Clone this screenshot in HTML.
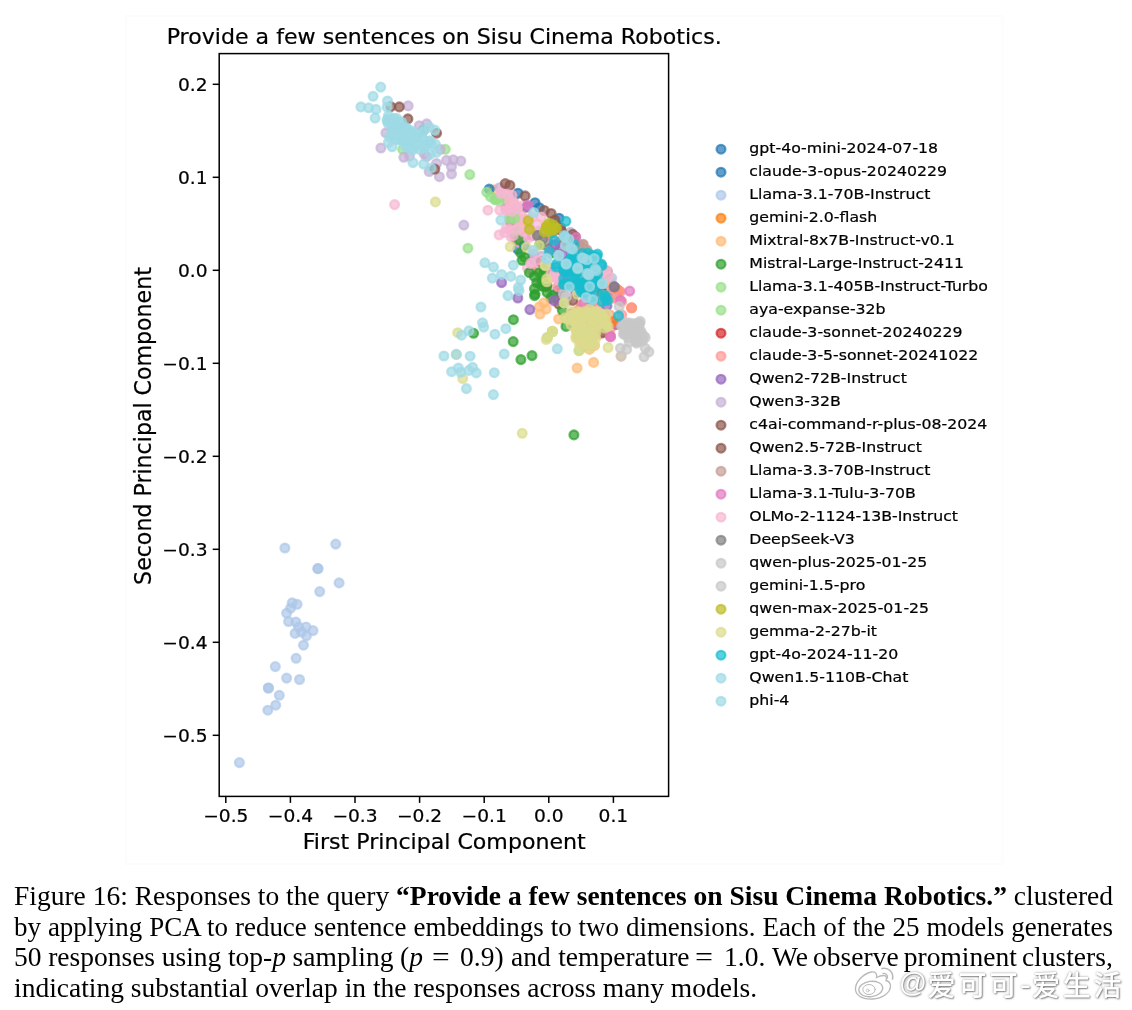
<!DOCTYPE html>
<html lang="en"><head><meta charset="utf-8"><title>Figure 16</title>
<style>
html,body{margin:0;padding:0;background:#fff}
body{width:1132px;height:1010px;position:relative;overflow:hidden;font-family:"Liberation Serif","Noto Serif CJK SC",serif}
</style></head><body>
<svg width="1132" height="872" viewBox="0 0 1132 872" style="position:absolute;left:0;top:0;font-family:'DejaVu Sans','Liberation Sans',sans-serif">
<style>
.c0{fill:#1f77b4;stroke:#1f77b4}
.c1{fill:#aec7e8;stroke:#aec7e8}
.c2{fill:#ff7f0e;stroke:#ff7f0e}
.c3{fill:#ffbb78;stroke:#ffbb78}
.c4{fill:#2ca02c;stroke:#2ca02c}
.c5{fill:#98df8a;stroke:#98df8a}
.c6{fill:#d62728;stroke:#d62728}
.c7{fill:#ff9896;stroke:#ff9896}
.c8{fill:#9467bd;stroke:#9467bd}
.c9{fill:#c5b0d5;stroke:#c5b0d5}
.c10{fill:#8c564b;stroke:#8c564b}
.c11{fill:#c49c94;stroke:#c49c94}
.c12{fill:#e377c2;stroke:#e377c2}
.c13{fill:#f7b6d2;stroke:#f7b6d2}
.c14{fill:#7f7f7f;stroke:#7f7f7f}
.c15{fill:#c7c7c7;stroke:#c7c7c7}
.c16{fill:#bcbd22;stroke:#bcbd22}
.c17{fill:#dbdb8d;stroke:#dbdb8d}
.c18{fill:#17becf;stroke:#17becf}
.c19{fill:#9edae5;stroke:#9edae5}
.pts circle{fill-opacity:.7;stroke-opacity:.7;stroke-width:2.3}
text{stroke:#000;stroke-width:.22px}.tk{font-size:17.6px;fill:#000}.lg{font-size:14.9px;fill:#000}.ti{font-size:20.9px;fill:#000}
</style>
<rect x="126" y="16" width="876.5" height="848" fill="none" stroke="#fcfcfc" stroke-width="2"/>
<g class="pts">
<circle class="c13" cx="504.9" cy="193.3" r="4.4"/>
<circle class="c3" cx="521.5" cy="228.3" r="4.4"/>
<circle class="c3" cx="516" cy="220.6" r="4.4"/>
<circle class="c13" cx="507.3" cy="200.3" r="4.4"/>
<circle class="c3" cx="521" cy="220.1" r="4.4"/>
<circle class="c13" cx="511" cy="236.8" r="4.4"/>
<circle class="c3" cx="520" cy="239.1" r="4.4"/>
<circle class="c12" cx="506" cy="207.6" r="4.4"/>
<circle class="c13" cx="521.4" cy="215.2" r="4.4"/>
<circle class="c12" cx="529.2" cy="228.9" r="4.4"/>
<circle class="c13" cx="513" cy="221.9" r="4.4"/>
<circle class="c5" cx="495.4" cy="199.1" r="4.4"/>
<circle class="c13" cx="523.3" cy="205.3" r="4.4"/>
<circle class="c13" cx="528.5" cy="219.4" r="4.4"/>
<circle class="c12" cx="526.2" cy="235.5" r="4.4"/>
<circle class="c13" cx="509.3" cy="211.1" r="4.4"/>
<circle class="c5" cx="515.1" cy="211.2" r="4.4"/>
<circle class="c3" cx="493.8" cy="189.8" r="4.4"/>
<circle class="c12" cx="532.3" cy="235.6" r="4.4"/>
<circle class="c5" cx="505.3" cy="198.5" r="4.4"/>
<circle class="c13" cx="517.4" cy="208" r="4.4"/>
<circle class="c13" cx="514.5" cy="196.4" r="4.4"/>
<circle class="c5" cx="498.3" cy="198.7" r="4.4"/>
<circle class="c13" cx="506.2" cy="228.6" r="4.4"/>
<circle class="c13" cx="532.3" cy="216.8" r="4.4"/>
<circle class="c13" cx="512" cy="228.1" r="4.4"/>
<circle class="c11" cx="526.4" cy="207.6" r="4.4"/>
<circle class="c13" cx="535.5" cy="234.6" r="4.4"/>
<circle class="c0" cx="518" cy="249.4" r="4.4"/>
<circle class="c13" cx="519.1" cy="242.3" r="4.4"/>
<circle class="c11" cx="514.5" cy="234.5" r="4.4"/>
<circle class="c13" cx="518.2" cy="217.1" r="4.4"/>
<circle class="c11" cx="516.8" cy="240.4" r="4.4"/>
<circle class="c9" cx="499.6" cy="187.7" r="4.4"/>
<circle class="c5" cx="509.7" cy="217.4" r="4.4"/>
<circle class="c13" cx="524.2" cy="219.2" r="4.4"/>
<circle class="c9" cx="538.7" cy="231" r="4.4"/>
<circle class="c11" cx="510.2" cy="221" r="4.4"/>
<circle class="c13" cx="520.8" cy="232.7" r="4.4"/>
<circle class="c13" cx="501.1" cy="191.2" r="4.4"/>
<circle class="c5" cx="516.7" cy="231.8" r="4.4"/>
<circle class="c13" cx="510.1" cy="207.4" r="4.4"/>
<circle class="c0" cx="524.3" cy="245.6" r="4.4"/>
<circle class="c3" cx="512.8" cy="201.4" r="4.4"/>
<circle class="c5" cx="514.6" cy="218.5" r="4.4"/>
<circle class="c4" cx="542.1" cy="285.9" r="4.4"/>
<circle class="c3" cx="540.9" cy="266.6" r="4.4"/>
<circle class="c13" cx="567.9" cy="284.7" r="4.4"/>
<circle class="c4" cx="577.4" cy="272.4" r="4.4"/>
<circle class="c3" cx="584.9" cy="279.7" r="4.4"/>
<circle class="c10" cx="570.2" cy="281.6" r="4.4"/>
<circle class="c10" cx="561.2" cy="299.5" r="4.4"/>
<circle class="c10" cx="561.1" cy="291.9" r="4.4"/>
<circle class="c4" cx="551.6" cy="253" r="4.4"/>
<circle class="c9" cx="570.3" cy="270.7" r="4.4"/>
<circle class="c13" cx="530.5" cy="260.5" r="4.4"/>
<circle class="c8" cx="560.3" cy="246" r="4.4"/>
<circle class="c13" cx="538.4" cy="268" r="4.4"/>
<circle class="c12" cx="542.5" cy="282.6" r="4.4"/>
<circle class="c9" cx="559.5" cy="256.5" r="4.4"/>
<circle class="c12" cx="560" cy="279.1" r="4.4"/>
<circle class="c8" cx="557.7" cy="290.4" r="4.4"/>
<circle class="c9" cx="550.4" cy="268.4" r="4.4"/>
<circle class="c4" cx="590.3" cy="256.5" r="4.4"/>
<circle class="c13" cx="574.2" cy="248.3" r="4.4"/>
<circle class="c4" cx="547.1" cy="292.4" r="4.4"/>
<circle class="c14" cx="547.8" cy="241.5" r="4.4"/>
<circle class="c14" cx="545.2" cy="245" r="4.4"/>
<circle class="c4" cx="552.6" cy="295.4" r="4.4"/>
<circle class="c12" cx="550.4" cy="250.6" r="4.4"/>
<circle class="c10" cx="547.1" cy="285.6" r="4.4"/>
<circle class="c3" cx="583.9" cy="271.2" r="4.4"/>
<circle class="c4" cx="564.4" cy="280.2" r="4.4"/>
<circle class="c4" cx="591.3" cy="263" r="4.4"/>
<circle class="c12" cx="558.7" cy="242.1" r="4.4"/>
<circle class="c9" cx="541.4" cy="256.2" r="4.4"/>
<circle class="c4" cx="552.9" cy="224.2" r="4.4"/>
<circle class="c8" cx="583.9" cy="263" r="4.4"/>
<circle class="c13" cx="565.9" cy="297.2" r="4.4"/>
<circle class="c13" cx="560.6" cy="265.4" r="4.4"/>
<circle class="c9" cx="533" cy="258.3" r="4.4"/>
<circle class="c14" cx="552.2" cy="272.7" r="4.4"/>
<circle class="c13" cx="552.7" cy="301.2" r="4.4"/>
<circle class="c8" cx="562.8" cy="254.7" r="4.4"/>
<circle class="c9" cx="535.1" cy="260.2" r="4.4"/>
<circle class="c8" cx="575.7" cy="293.1" r="4.4"/>
<circle class="c14" cx="570.2" cy="260.8" r="4.4"/>
<circle class="c11" cx="566.9" cy="246.6" r="4.4"/>
<circle class="c13" cx="544.3" cy="239.3" r="4.4"/>
<circle class="c14" cx="560.6" cy="275.6" r="4.4"/>
<circle class="c8" cx="555.2" cy="244.8" r="4.4"/>
<circle class="c11" cx="554.9" cy="276.4" r="4.4"/>
<circle class="c10" cx="560.5" cy="227.5" r="4.4"/>
<circle class="c12" cx="540.1" cy="284.3" r="4.4"/>
<circle class="c7" cx="531.8" cy="270.4" r="4.4"/>
<circle class="c7" cx="552.9" cy="228.8" r="4.4"/>
<circle class="c13" cx="573" cy="245.6" r="4.4"/>
<circle class="c10" cx="580" cy="245.8" r="4.4"/>
<circle class="c4" cx="550.7" cy="298.2" r="4.4"/>
<circle class="c9" cx="570.5" cy="232.4" r="4.4"/>
<circle class="c7" cx="548.8" cy="234.8" r="4.4"/>
<circle class="c7" cx="545.7" cy="280.4" r="4.4"/>
<circle class="c4" cx="591.7" cy="271.5" r="4.4"/>
<circle class="c10" cx="558.9" cy="304.2" r="4.4"/>
<circle class="c14" cx="552.4" cy="232.7" r="4.4"/>
<circle class="c7" cx="557.9" cy="286.7" r="4.4"/>
<circle class="c14" cx="564.7" cy="240.2" r="4.4"/>
<circle class="c11" cx="576.3" cy="252.5" r="4.4"/>
<circle class="c9" cx="533.5" cy="253.9" r="4.4"/>
<circle class="c10" cx="541.1" cy="261.8" r="4.4"/>
<circle class="c10" cx="561.3" cy="230.7" r="4.4"/>
<circle class="c13" cx="527.4" cy="268.1" r="4.4"/>
<circle class="c13" cx="566.9" cy="301.5" r="4.4"/>
<circle class="c13" cx="571" cy="279.2" r="4.4"/>
<circle class="c4" cx="539.8" cy="244.6" r="4.4"/>
<circle class="c12" cx="590.4" cy="312.6" r="4.4"/>
<circle class="c7" cx="578.1" cy="329" r="4.4"/>
<circle class="c7" cx="598.5" cy="292.6" r="4.4"/>
<circle class="c7" cx="602.2" cy="315.6" r="4.4"/>
<circle class="c8" cx="614" cy="292.7" r="4.4"/>
<circle class="c7" cx="621.8" cy="314.8" r="4.4"/>
<circle class="c7" cx="594.2" cy="331.3" r="4.4"/>
<circle class="c11" cx="605.4" cy="288.5" r="4.4"/>
<circle class="c3" cx="592.2" cy="308" r="4.4"/>
<circle class="c10" cx="591.2" cy="325" r="4.4"/>
<circle class="c7" cx="585.3" cy="332.9" r="4.4"/>
<circle class="c11" cx="591.5" cy="339.2" r="4.4"/>
<circle class="c7" cx="610" cy="334.7" r="4.4"/>
<circle class="c7" cx="597.8" cy="307.3" r="4.4"/>
<circle class="c7" cx="592.4" cy="302.9" r="4.4"/>
<circle class="c7" cx="577.3" cy="337.3" r="4.4"/>
<circle class="c7" cx="612" cy="284.7" r="4.4"/>
<circle class="c8" cx="607" cy="305.9" r="4.4"/>
<circle class="c11" cx="590.1" cy="301.5" r="4.4"/>
<circle class="c13" cx="599" cy="276.3" r="4.4"/>
<circle class="c7" cx="621.8" cy="301.6" r="4.4"/>
<circle class="c7" cx="610.9" cy="327.9" r="4.4"/>
<circle class="c7" cx="600.2" cy="284.2" r="4.4"/>
<circle class="c3" cx="609.7" cy="280.4" r="4.4"/>
<circle class="c7" cx="589.5" cy="336.3" r="4.4"/>
<circle class="c12" cx="601.3" cy="318.9" r="4.4"/>
<circle class="c7" cx="581.6" cy="304.6" r="4.4"/>
<circle class="c7" cx="617.1" cy="289.1" r="4.4"/>
<circle class="c3" cx="606" cy="316.6" r="4.4"/>
<circle class="c10" cx="616.7" cy="324.4" r="4.4"/>
<circle class="c7" cx="574.1" cy="312.1" r="4.4"/>
<circle class="c7" cx="593.7" cy="288.4" r="4.4"/>
<circle class="c11" cx="579.6" cy="309.1" r="4.4"/>
<circle class="c13" cx="578.1" cy="312.8" r="4.4"/>
<circle class="c13" cx="621.7" cy="320.7" r="4.4"/>
<circle class="c8" cx="570.2" cy="314.2" r="4.4"/>
<circle class="c7" cx="610.4" cy="295.9" r="4.4"/>
<circle class="c10" cx="602" cy="292.4" r="4.4"/>
<circle class="c7" cx="610.1" cy="315.1" r="4.4"/>
<circle class="c13" cx="617.6" cy="297.9" r="4.4"/>
<circle class="c12" cx="582.3" cy="314.7" r="4.4"/>
<circle class="c8" cx="587.7" cy="324.7" r="4.4"/>
<circle class="c7" cx="603.7" cy="295.2" r="4.4"/>
<circle class="c7" cx="602.4" cy="298.6" r="4.4"/>
<circle class="c8" cx="595.1" cy="322.3" r="4.4"/>
<circle class="c7" cx="573.3" cy="314.7" r="4.4"/>
<circle class="c12" cx="614.1" cy="323.5" r="4.4"/>
<circle class="c11" cx="609.4" cy="299" r="4.4"/>
<circle class="c7" cx="600" cy="334.2" r="4.4"/>
<circle class="c12" cx="604.6" cy="321.3" r="4.4"/>
<circle class="c0" cx="489.2" cy="189.1" r="4.4"/>
<circle class="c0" cx="518" cy="193.2" r="4.4"/>
<circle class="c0" cx="535" cy="202.7" r="4.4"/>
<circle class="c0" cx="539.3" cy="207.7" r="4.4"/>
<circle class="c0" cx="559.1" cy="218.2" r="4.4"/>
<circle class="c1" cx="611.8" cy="278.1" r="4.4"/>
<circle class="c1" cx="284.9" cy="548" r="4.4"/>
<circle class="c1" cx="335.7" cy="544.1" r="4.4"/>
<circle class="c1" cx="317.9" cy="568.6" r="4.4"/>
<circle class="c1" cx="317.9" cy="568.6" r="4.4"/>
<circle class="c1" cx="339.1" cy="582.9" r="4.4"/>
<circle class="c1" cx="319.7" cy="591.6" r="4.4"/>
<circle class="c1" cx="292.2" cy="602.9" r="4.4"/>
<circle class="c1" cx="297.1" cy="604.3" r="4.4"/>
<circle class="c1" cx="290.6" cy="608.2" r="4.4"/>
<circle class="c1" cx="286.6" cy="613.2" r="4.4"/>
<circle class="c1" cx="288.6" cy="621.5" r="4.4"/>
<circle class="c1" cx="295.9" cy="622.1" r="4.4"/>
<circle class="c1" cx="298.5" cy="627" r="4.4"/>
<circle class="c1" cx="306" cy="627" r="4.4"/>
<circle class="c1" cx="313" cy="630.6" r="4.4"/>
<circle class="c1" cx="295.1" cy="633.4" r="4.4"/>
<circle class="c1" cx="301.5" cy="632" r="4.4"/>
<circle class="c1" cx="306.4" cy="635.9" r="4.4"/>
<circle class="c1" cx="303.5" cy="645.2" r="4.4"/>
<circle class="c1" cx="296.1" cy="658.3" r="4.4"/>
<circle class="c1" cx="275.3" cy="666.6" r="4.4"/>
<circle class="c1" cx="286.6" cy="678.1" r="4.4"/>
<circle class="c1" cx="299.5" cy="679.5" r="4.4"/>
<circle class="c1" cx="268.4" cy="688" r="4.4"/>
<circle class="c1" cx="268.4" cy="688" r="4.4"/>
<circle class="c1" cx="279.3" cy="695.3" r="4.4"/>
<circle class="c1" cx="275.7" cy="705.2" r="4.4"/>
<circle class="c1" cx="267.8" cy="710.2" r="4.4"/>
<circle class="c1" cx="239.4" cy="762.6" r="4.4"/>
<circle class="c2" cx="613" cy="321.4" r="4.4"/>
<circle class="c2" cx="631.6" cy="307.8" r="4.4"/>
<circle class="c2" cx="619.2" cy="291.1" r="4.4"/>
<circle class="c3" cx="570.1" cy="319.2" r="4.4"/>
<circle class="c3" cx="581" cy="323.6" r="4.4"/>
<circle class="c3" cx="572.8" cy="323.4" r="4.4"/>
<circle class="c3" cx="580.6" cy="326" r="4.4"/>
<circle class="c3" cx="576.4" cy="320.1" r="4.4"/>
<circle class="c3" cx="590.1" cy="341.7" r="4.4"/>
<circle class="c3" cx="606.3" cy="320.3" r="4.4"/>
<circle class="c3" cx="578.8" cy="319" r="4.4"/>
<circle class="c3" cx="582.2" cy="329.6" r="4.4"/>
<circle class="c3" cx="592.9" cy="334.2" r="4.4"/>
<circle class="c3" cx="597.3" cy="331.5" r="4.4"/>
<circle class="c3" cx="585.2" cy="338.9" r="4.4"/>
<circle class="c3" cx="583.4" cy="309.4" r="4.4"/>
<circle class="c3" cx="580.7" cy="341.5" r="4.4"/>
<circle class="c3" cx="590.5" cy="316.4" r="4.4"/>
<circle class="c3" cx="591.3" cy="345.6" r="4.4"/>
<circle class="c3" cx="586.1" cy="323.3" r="4.4"/>
<circle class="c3" cx="576" cy="330.2" r="4.4"/>
<circle class="c3" cx="599.2" cy="313.3" r="4.4"/>
<circle class="c3" cx="580.6" cy="338.2" r="4.4"/>
<circle class="c3" cx="577.8" cy="337.4" r="4.4"/>
<circle class="c3" cx="592.9" cy="319" r="4.4"/>
<circle class="c3" cx="585.8" cy="312.3" r="4.4"/>
<circle class="c3" cx="580.4" cy="333.6" r="4.4"/>
<circle class="c3" cx="585" cy="317" r="4.4"/>
<circle class="c3" cx="577.7" cy="324" r="4.4"/>
<circle class="c3" cx="603" cy="317.5" r="4.4"/>
<circle class="c3" cx="576.6" cy="311.2" r="4.4"/>
<circle class="c3" cx="596.4" cy="325.6" r="4.4"/>
<circle class="c3" cx="589.4" cy="328.8" r="4.4"/>
<circle class="c3" cx="528.2" cy="220.7" r="4.4"/>
<circle class="c3" cx="529.4" cy="229.4" r="4.4"/>
<circle class="c3" cx="543.7" cy="302.9" r="4.4"/>
<circle class="c3" cx="558.6" cy="319" r="4.4"/>
<circle class="c3" cx="540" cy="314" r="4.4"/>
<circle class="c3" cx="546.2" cy="309.1" r="4.4"/>
<circle class="c3" cx="589.5" cy="349.4" r="4.4"/>
<circle class="c3" cx="594.5" cy="345.7" r="4.4"/>
<circle class="c3" cx="584.6" cy="346.9" r="4.4"/>
<circle class="c3" cx="577.1" cy="368" r="4.4"/>
<circle class="c3" cx="593.6" cy="362.4" r="4.4"/>
<circle class="c3" cx="621.1" cy="356.2" r="4.4"/>
<circle class="c3" cx="539.4" cy="306.7" r="4.4"/>
<circle class="c4" cx="519.5" cy="239.9" r="4.4"/>
<circle class="c4" cx="520.7" cy="252.9" r="4.4"/>
<circle class="c4" cx="524.5" cy="257.2" r="4.4"/>
<circle class="c4" cx="522" cy="260.3" r="4.4"/>
<circle class="c4" cx="529.4" cy="272.7" r="4.4"/>
<circle class="c4" cx="534.4" cy="276.4" r="4.4"/>
<circle class="c4" cx="539.3" cy="272.7" r="4.4"/>
<circle class="c4" cx="544.3" cy="270.2" r="4.4"/>
<circle class="c4" cx="536.8" cy="282.6" r="4.4"/>
<circle class="c4" cx="543" cy="286.3" r="4.4"/>
<circle class="c4" cx="534.4" cy="288.8" r="4.4"/>
<circle class="c4" cx="562.3" cy="310.3" r="4.4"/>
<circle class="c4" cx="566" cy="326.4" r="4.4"/>
<circle class="c4" cx="543.7" cy="274.4" r="4.4"/>
<circle class="c4" cx="546.2" cy="286.8" r="4.4"/>
<circle class="c4" cx="542.5" cy="281.8" r="4.4"/>
<circle class="c4" cx="473.6" cy="333.3" r="4.4"/>
<circle class="c4" cx="513.4" cy="319.7" r="4.4"/>
<circle class="c4" cx="513.2" cy="341.6" r="4.4"/>
<circle class="c4" cx="520.9" cy="359.6" r="4.4"/>
<circle class="c4" cx="532" cy="355.6" r="4.4"/>
<circle class="c4" cx="535.1" cy="294.3" r="4.4"/>
<circle class="c4" cx="534.5" cy="295.6" r="4.4"/>
<circle class="c4" cx="573.9" cy="434.9" r="4.4"/>
<circle class="c5" cx="445.3" cy="149.3" r="4.4"/>
<circle class="c5" cx="469.8" cy="174.6" r="4.4"/>
<circle class="c5" cx="402.6" cy="149.3" r="4.4"/>
<circle class="c5" cx="467.9" cy="248.2" r="4.4"/>
<circle class="c5" cx="486.7" cy="192.2" r="4.4"/>
<circle class="c5" cx="490.4" cy="196.6" r="4.4"/>
<circle class="c5" cx="494.8" cy="199.7" r="4.4"/>
<circle class="c5" cx="499.7" cy="201.5" r="4.4"/>
<circle class="c5" cx="509.6" cy="218.2" r="4.4"/>
<circle class="c5" cx="564.1" cy="302.9" r="4.4"/>
<circle class="c5" cx="552.4" cy="331.3" r="4.4"/>
<circle class="c5" cx="547.4" cy="337.5" r="4.4"/>
<circle class="c5" cx="579" cy="350.6" r="4.4"/>
<circle class="c5" cx="552.4" cy="331.5" r="4.4"/>
<circle class="c7" cx="620.4" cy="291.7" r="4.4"/>
<circle class="c7" cx="616.7" cy="299.2" r="4.4"/>
<circle class="c7" cx="631.6" cy="307.8" r="4.4"/>
<circle class="c8" cx="527.5" cy="206.5" r="4.4"/>
<circle class="c8" cx="501.6" cy="282.6" r="4.4"/>
<circle class="c8" cx="614.3" cy="286.8" r="4.4"/>
<circle class="c8" cx="554.2" cy="300.4" r="4.4"/>
<circle class="c8" cx="517.8" cy="298" r="4.4"/>
<circle class="c8" cx="529.9" cy="309.6" r="4.4"/>
<circle class="c9" cx="408.2" cy="105.9" r="4.4"/>
<circle class="c9" cx="385.9" cy="132.9" r="4.4"/>
<circle class="c9" cx="380.9" cy="148" r="4.4"/>
<circle class="c9" cx="403.8" cy="157.3" r="4.4"/>
<circle class="c9" cx="409.4" cy="156.1" r="4.4"/>
<circle class="c9" cx="419.3" cy="125.7" r="4.4"/>
<circle class="c9" cx="426.7" cy="123.9" r="4.4"/>
<circle class="c9" cx="424.3" cy="154.2" r="4.4"/>
<circle class="c9" cx="436.6" cy="163.5" r="4.4"/>
<circle class="c9" cx="429.2" cy="171.5" r="4.4"/>
<circle class="c9" cx="439.4" cy="176.7" r="4.4"/>
<circle class="c9" cx="446.5" cy="160.4" r="4.4"/>
<circle class="c9" cx="453.3" cy="159.8" r="4.4"/>
<circle class="c9" cx="460.8" cy="161" r="4.4"/>
<circle class="c9" cx="451.5" cy="166.6" r="4.4"/>
<circle class="c9" cx="451.5" cy="174" r="4.4"/>
<circle class="c9" cx="440.3" cy="149.3" r="4.4"/>
<circle class="c9" cx="426.7" cy="156.7" r="4.4"/>
<circle class="c9" cx="463.8" cy="225.1" r="4.4"/>
<circle class="c10" cx="399.3" cy="106.9" r="4.4"/>
<circle class="c10" cx="407.9" cy="118.9" r="4.4"/>
<circle class="c10" cx="436.6" cy="133.2" r="4.4"/>
<circle class="c10" cx="434.8" cy="169.1" r="4.4"/>
<circle class="c10" cx="390.8" cy="106.6" r="4.4"/>
<circle class="c10" cx="505.3" cy="183.6" r="4.4"/>
<circle class="c10" cx="509.9" cy="185.4" r="4.4"/>
<circle class="c10" cx="525.1" cy="195.9" r="4.4"/>
<circle class="c10" cx="544.3" cy="210.5" r="4.4"/>
<circle class="c10" cx="551.1" cy="213.5" r="4.4"/>
<circle class="c10" cx="554.8" cy="220.1" r="4.4"/>
<circle class="c10" cx="572.7" cy="234.3" r="4.4"/>
<circle class="c10" cx="575.3" cy="236.7" r="4.4"/>
<circle class="c10" cx="572.8" cy="300.4" r="4.4"/>
<circle class="c10" cx="603.1" cy="332.7" r="4.4"/>
<circle class="c11" cx="537.5" cy="235.5" r="4.4"/>
<circle class="c11" cx="583.2" cy="244.2" r="4.4"/>
<circle class="c11" cx="587" cy="249.8" r="4.4"/>
<circle class="c11" cx="582.7" cy="244.7" r="4.4"/>
<circle class="c11" cx="585.8" cy="250.9" r="4.4"/>
<circle class="c11" cx="607.5" cy="271.3" r="4.4"/>
<circle class="c11" cx="601.9" cy="275.6" r="4.4"/>
<circle class="c11" cx="598.2" cy="279.4" r="4.4"/>
<circle class="c12" cx="527.9" cy="205.2" r="4.4"/>
<circle class="c12" cx="575.8" cy="237.4" r="4.4"/>
<circle class="c12" cx="565.3" cy="276.4" r="4.4"/>
<circle class="c12" cx="629.7" cy="291.1" r="4.4"/>
<circle class="c12" cx="620.4" cy="300.4" r="4.4"/>
<circle class="c12" cx="610.5" cy="336.9" r="4.4"/>
<circle class="c12" cx="583.9" cy="302.9" r="4.4"/>
<circle class="c12" cx="564.8" cy="275.6" r="4.4"/>
<circle class="c12" cx="610.5" cy="336.4" r="4.4"/>
<circle class="c13" cx="394.6" cy="204.6" r="4.4"/>
<circle class="c13" cx="500.9" cy="193.5" r="4.4"/>
<circle class="c13" cx="507.1" cy="194.1" r="4.4"/>
<circle class="c13" cx="512.1" cy="195.3" r="4.4"/>
<circle class="c13" cx="515.2" cy="204" r="4.4"/>
<circle class="c13" cx="509.6" cy="202.1" r="4.4"/>
<circle class="c13" cx="499.7" cy="210.2" r="4.4"/>
<circle class="c13" cx="505.9" cy="210.8" r="4.4"/>
<circle class="c13" cx="512.1" cy="211.4" r="4.4"/>
<circle class="c13" cx="487.9" cy="210.2" r="4.4"/>
<circle class="c13" cx="517.6" cy="207.7" r="4.4"/>
<circle class="c13" cx="541.2" cy="217" r="4.4"/>
<circle class="c13" cx="537.5" cy="224.4" r="4.4"/>
<circle class="c13" cx="499.1" cy="234.9" r="4.4"/>
<circle class="c13" cx="504.7" cy="232.5" r="4.4"/>
<circle class="c13" cx="509.6" cy="229.4" r="4.4"/>
<circle class="c13" cx="513.3" cy="235.5" r="4.4"/>
<circle class="c13" cx="519.5" cy="228.1" r="4.4"/>
<circle class="c13" cx="523.2" cy="231.8" r="4.4"/>
<circle class="c13" cx="528.2" cy="238" r="4.4"/>
<circle class="c13" cx="537.5" cy="260.3" r="4.4"/>
<circle class="c13" cx="530.6" cy="263.4" r="4.4"/>
<circle class="c13" cx="554.2" cy="275.1" r="4.4"/>
<circle class="c13" cx="556.6" cy="278.9" r="4.4"/>
<circle class="c13" cx="601.2" cy="273.9" r="4.4"/>
<circle class="c13" cx="606.1" cy="270.2" r="4.4"/>
<circle class="c13" cx="608.6" cy="276.4" r="4.4"/>
<circle class="c13" cx="554.2" cy="276.9" r="4.4"/>
<circle class="c13" cx="551.1" cy="273.2" r="4.4"/>
<circle class="c14" cx="423.6" cy="130.1" r="4.4"/>
<circle class="c14" cx="537.5" cy="235.5" r="4.4"/>
<circle class="c14" cx="543" cy="239.3" r="4.4"/>
<circle class="c14" cx="614.3" cy="286.8" r="4.4"/>
<circle class="c15" cx="634.3" cy="328" r="4.4"/>
<circle class="c15" cx="629.8" cy="323" r="4.4"/>
<circle class="c15" cx="636" cy="341.9" r="4.4"/>
<circle class="c15" cx="634.3" cy="330.6" r="4.4"/>
<circle class="c15" cx="628.4" cy="337.9" r="4.4"/>
<circle class="c15" cx="640.6" cy="330.7" r="4.4"/>
<circle class="c15" cx="634.6" cy="333.1" r="4.4"/>
<circle class="c15" cx="637.3" cy="323.1" r="4.4"/>
<circle class="c15" cx="639.6" cy="323.8" r="4.4"/>
<circle class="c15" cx="643.7" cy="335.8" r="4.4"/>
<circle class="c15" cx="634.4" cy="337.6" r="4.4"/>
<circle class="c15" cx="624.2" cy="325.9" r="4.4"/>
<circle class="c15" cx="623.3" cy="334.1" r="4.4"/>
<circle class="c15" cx="628.9" cy="325.1" r="4.4"/>
<circle class="c15" cx="640.1" cy="341.4" r="4.4"/>
<circle class="c15" cx="626.3" cy="330" r="4.4"/>
<circle class="c15" cx="629.7" cy="333" r="4.4"/>
<circle class="c15" cx="631.4" cy="329.3" r="4.4"/>
<circle class="c15" cx="637.7" cy="340.5" r="4.4"/>
<circle class="c15" cx="627" cy="333.3" r="4.4"/>
<circle class="c15" cx="619.2" cy="306.6" r="4.4"/>
<circle class="c15" cx="626.6" cy="322.7" r="4.4"/>
<circle class="c15" cx="634.1" cy="323.9" r="4.4"/>
<circle class="c15" cx="640.2" cy="321.4" r="4.4"/>
<circle class="c15" cx="631.6" cy="331.3" r="4.4"/>
<circle class="c15" cx="639" cy="332.6" r="4.4"/>
<circle class="c15" cx="645.2" cy="337.5" r="4.4"/>
<circle class="c15" cx="624.2" cy="332.6" r="4.4"/>
<circle class="c15" cx="621.7" cy="326.4" r="4.4"/>
<circle class="c15" cx="563.5" cy="294.2" r="4.4"/>
<circle class="c15" cx="566.6" cy="296.7" r="4.4"/>
<circle class="c15" cx="621.1" cy="356.2" r="4.4"/>
<circle class="c15" cx="620.4" cy="348.2" r="4.4"/>
<circle class="c15" cx="626.6" cy="349.4" r="4.4"/>
<circle class="c15" cx="644" cy="356.8" r="4.4"/>
<circle class="c15" cx="648.9" cy="351.9" r="4.4"/>
<circle class="c15" cx="645.2" cy="348.2" r="4.4"/>
<circle class="c15" cx="642.7" cy="340.7" r="4.4"/>
<circle class="c15" cx="636.5" cy="343.2" r="4.4"/>
<circle class="c15" cx="629.1" cy="342" r="4.4"/>
<circle class="c15" cx="625.4" cy="334.6" r="4.4"/>
<circle class="c15" cx="634.1" cy="333.3" r="4.4"/>
<circle class="c15" cx="641.5" cy="333.3" r="4.4"/>
<circle class="c15" cx="639" cy="323.4" r="4.4"/>
<circle class="c15" cx="631.6" cy="324.7" r="4.4"/>
<circle class="c15" cx="624.2" cy="327.1" r="4.4"/>
<circle class="c16" cx="553.3" cy="224.7" r="4.4"/>
<circle class="c16" cx="546.7" cy="225.6" r="4.4"/>
<circle class="c16" cx="546.3" cy="228.1" r="4.4"/>
<circle class="c16" cx="549.7" cy="228.8" r="4.4"/>
<circle class="c16" cx="550" cy="231.6" r="4.4"/>
<circle class="c16" cx="555" cy="228" r="4.4"/>
<circle class="c16" cx="528.2" cy="220.7" r="4.4"/>
<circle class="c16" cx="529.4" cy="229.4" r="4.4"/>
<circle class="c16" cx="546.7" cy="226.9" r="4.4"/>
<circle class="c16" cx="551.7" cy="231.8" r="4.4"/>
<circle class="c16" cx="556.6" cy="228.1" r="4.4"/>
<circle class="c16" cx="549.2" cy="223.2" r="4.4"/>
<circle class="c16" cx="544.3" cy="231.8" r="4.4"/>
<circle class="c17" cx="591.4" cy="344.8" r="4.4"/>
<circle class="c17" cx="586.2" cy="331.1" r="4.4"/>
<circle class="c17" cx="602.9" cy="317.8" r="4.4"/>
<circle class="c17" cx="582.4" cy="327.9" r="4.4"/>
<circle class="c17" cx="587" cy="343.5" r="4.4"/>
<circle class="c17" cx="579.5" cy="328" r="4.4"/>
<circle class="c17" cx="591.8" cy="314.4" r="4.4"/>
<circle class="c17" cx="606.2" cy="325.3" r="4.4"/>
<circle class="c17" cx="566.6" cy="319.1" r="4.4"/>
<circle class="c17" cx="596" cy="322.4" r="4.4"/>
<circle class="c17" cx="605.1" cy="321.4" r="4.4"/>
<circle class="c17" cx="577.2" cy="331.2" r="4.4"/>
<circle class="c17" cx="585.9" cy="321.5" r="4.4"/>
<circle class="c17" cx="570.6" cy="315.5" r="4.4"/>
<circle class="c17" cx="593.4" cy="321.5" r="4.4"/>
<circle class="c17" cx="580.6" cy="319.7" r="4.4"/>
<circle class="c17" cx="571.1" cy="325" r="4.4"/>
<circle class="c17" cx="584.3" cy="311.6" r="4.4"/>
<circle class="c17" cx="579" cy="312.4" r="4.4"/>
<circle class="c17" cx="588" cy="333" r="4.4"/>
<circle class="c17" cx="590.4" cy="342.1" r="4.4"/>
<circle class="c17" cx="575.1" cy="313.9" r="4.4"/>
<circle class="c17" cx="583.9" cy="316.6" r="4.4"/>
<circle class="c17" cx="588.7" cy="313.2" r="4.4"/>
<circle class="c17" cx="604.8" cy="328.1" r="4.4"/>
<circle class="c17" cx="598.1" cy="313.7" r="4.4"/>
<circle class="c17" cx="596" cy="332.9" r="4.4"/>
<circle class="c17" cx="582.7" cy="337" r="4.4"/>
<circle class="c17" cx="435.4" cy="201.9" r="4.4"/>
<circle class="c17" cx="510.2" cy="246.7" r="4.4"/>
<circle class="c17" cx="526.3" cy="247.3" r="4.4"/>
<circle class="c17" cx="539.3" cy="245.4" r="4.4"/>
<circle class="c17" cx="545.5" cy="265.2" r="4.4"/>
<circle class="c17" cx="546.7" cy="278.9" r="4.4"/>
<circle class="c17" cx="577.1" cy="294.2" r="4.4"/>
<circle class="c17" cx="570.9" cy="311.5" r="4.4"/>
<circle class="c17" cx="577.1" cy="314" r="4.4"/>
<circle class="c17" cx="582.1" cy="320.2" r="4.4"/>
<circle class="c17" cx="589.5" cy="309.1" r="4.4"/>
<circle class="c17" cx="595.7" cy="311.5" r="4.4"/>
<circle class="c17" cx="601.9" cy="314" r="4.4"/>
<circle class="c17" cx="606.8" cy="314" r="4.4"/>
<circle class="c17" cx="592" cy="320.2" r="4.4"/>
<circle class="c17" cx="599.4" cy="323.9" r="4.4"/>
<circle class="c17" cx="587" cy="328.9" r="4.4"/>
<circle class="c17" cx="577.1" cy="326.4" r="4.4"/>
<circle class="c17" cx="580.8" cy="333.8" r="4.4"/>
<circle class="c17" cx="592" cy="336.3" r="4.4"/>
<circle class="c17" cx="570.9" cy="320.2" r="4.4"/>
<circle class="c17" cx="608.1" cy="326.4" r="4.4"/>
<circle class="c17" cx="575.9" cy="336.3" r="4.4"/>
<circle class="c17" cx="564.8" cy="317.7" r="4.4"/>
<circle class="c17" cx="564.1" cy="302.9" r="4.4"/>
<circle class="c17" cx="546.8" cy="281.8" r="4.4"/>
<circle class="c17" cx="545" cy="265.7" r="4.4"/>
<circle class="c17" cx="552.4" cy="331.3" r="4.4"/>
<circle class="c17" cx="547.4" cy="337.5" r="4.4"/>
<circle class="c17" cx="577.1" cy="330.8" r="4.4"/>
<circle class="c17" cx="583.3" cy="330.8" r="4.4"/>
<circle class="c17" cx="589.5" cy="332.1" r="4.4"/>
<circle class="c17" cx="595.7" cy="329.6" r="4.4"/>
<circle class="c17" cx="575.9" cy="338.3" r="4.4"/>
<circle class="c17" cx="582.1" cy="339.5" r="4.4"/>
<circle class="c17" cx="589.5" cy="339.5" r="4.4"/>
<circle class="c17" cx="595.7" cy="338.3" r="4.4"/>
<circle class="c17" cx="579.6" cy="344.5" r="4.4"/>
<circle class="c17" cx="589.5" cy="348.2" r="4.4"/>
<circle class="c17" cx="594.5" cy="344.5" r="4.4"/>
<circle class="c17" cx="608.1" cy="347.5" r="4.4"/>
<circle class="c17" cx="579" cy="350.6" r="4.4"/>
<circle class="c17" cx="546.2" cy="339.5" r="4.4"/>
<circle class="c17" cx="552.4" cy="331.5" r="4.4"/>
<circle class="c17" cx="457.7" cy="332.7" r="4.4"/>
<circle class="c17" cx="456.3" cy="354.4" r="4.4"/>
<circle class="c17" cx="462.7" cy="378.5" r="4.4"/>
<circle class="c17" cx="522.2" cy="433.3" r="4.4"/>
<circle class="c18" cx="588" cy="261.2" r="4.4"/>
<circle class="c18" cx="583.8" cy="293.3" r="4.4"/>
<circle class="c18" cx="588.1" cy="253.1" r="4.4"/>
<circle class="c18" cx="597.5" cy="274" r="4.4"/>
<circle class="c18" cx="590.6" cy="265.5" r="4.4"/>
<circle class="c18" cx="605.5" cy="299.3" r="4.4"/>
<circle class="c18" cx="580.4" cy="283.8" r="4.4"/>
<circle class="c18" cx="569.7" cy="259.7" r="4.4"/>
<circle class="c18" cx="571.1" cy="272.1" r="4.4"/>
<circle class="c18" cx="576.8" cy="263.7" r="4.4"/>
<circle class="c18" cx="586.9" cy="263.5" r="4.4"/>
<circle class="c18" cx="581.2" cy="291.9" r="4.4"/>
<circle class="c18" cx="565.8" cy="272.2" r="4.4"/>
<circle class="c18" cx="584.7" cy="259.9" r="4.4"/>
<circle class="c18" cx="595.3" cy="281.1" r="4.4"/>
<circle class="c18" cx="567.5" cy="263.8" r="4.4"/>
<circle class="c18" cx="592.1" cy="255.4" r="4.4"/>
<circle class="c18" cx="595.8" cy="270.5" r="4.4"/>
<circle class="c18" cx="574.2" cy="244.5" r="4.4"/>
<circle class="c18" cx="589.4" cy="268.6" r="4.4"/>
<circle class="c18" cx="587.9" cy="290.3" r="4.4"/>
<circle class="c18" cx="591.8" cy="298.4" r="4.4"/>
<circle class="c18" cx="593.2" cy="283.5" r="4.4"/>
<circle class="c18" cx="580.9" cy="259.5" r="4.4"/>
<circle class="c18" cx="579.3" cy="288" r="4.4"/>
<circle class="c18" cx="571.9" cy="269.8" r="4.4"/>
<circle class="c18" cx="585.2" cy="284.8" r="4.4"/>
<circle class="c18" cx="572" cy="256.8" r="4.4"/>
<circle class="c18" cx="588" cy="277.2" r="4.4"/>
<circle class="c18" cx="569.9" cy="286.2" r="4.4"/>
<circle class="c18" cx="591.1" cy="259" r="4.4"/>
<circle class="c18" cx="580.2" cy="269.6" r="4.4"/>
<circle class="c18" cx="574.5" cy="268.3" r="4.4"/>
<circle class="c18" cx="582.4" cy="253.4" r="4.4"/>
<circle class="c18" cx="599.6" cy="283.1" r="4.4"/>
<circle class="c18" cx="591.3" cy="288.5" r="4.4"/>
<circle class="c18" cx="577" cy="283.4" r="4.4"/>
<circle class="c18" cx="582.7" cy="261.6" r="4.4"/>
<circle class="c18" cx="594.4" cy="286.4" r="4.4"/>
<circle class="c18" cx="593.1" cy="273.4" r="4.4"/>
<circle class="c18" cx="575.4" cy="273.7" r="4.4"/>
<circle class="c18" cx="605.5" cy="297" r="4.4"/>
<circle class="c18" cx="563.8" cy="278.7" r="4.4"/>
<circle class="c18" cx="571.9" cy="249.5" r="4.4"/>
<circle class="c18" cx="569.9" cy="268.5" r="4.4"/>
<circle class="c18" cx="565.9" cy="221.3" r="4.4"/>
<circle class="c18" cx="554.2" cy="240.5" r="4.4"/>
<circle class="c18" cx="549.2" cy="251.6" r="4.4"/>
<circle class="c18" cx="565.3" cy="236.8" r="4.4"/>
<circle class="c18" cx="556.6" cy="264" r="4.4"/>
<circle class="c18" cx="564.1" cy="270.2" r="4.4"/>
<circle class="c18" cx="571.5" cy="259.1" r="4.4"/>
<circle class="c18" cx="578.9" cy="276.4" r="4.4"/>
<circle class="c18" cx="571.5" cy="282.6" r="4.4"/>
<circle class="c18" cx="581.4" cy="286.3" r="4.4"/>
<circle class="c18" cx="593.8" cy="257.8" r="4.4"/>
<circle class="c18" cx="597.5" cy="254.1" r="4.4"/>
<circle class="c18" cx="601.2" cy="264" r="4.4"/>
<circle class="c18" cx="587.6" cy="264" r="4.4"/>
<circle class="c18" cx="564.1" cy="283.8" r="4.4"/>
<circle class="c18" cx="593.8" cy="276.4" r="4.4"/>
<circle class="c18" cx="586.3" cy="282.6" r="4.4"/>
<circle class="c18" cx="596.9" cy="256.5" r="4.4"/>
<circle class="c18" cx="601.9" cy="265.7" r="4.4"/>
<circle class="c18" cx="556.1" cy="267" r="4.4"/>
<circle class="c18" cx="563.5" cy="269.5" r="4.4"/>
<circle class="c18" cx="572.2" cy="259.6" r="4.4"/>
<circle class="c18" cx="574.7" cy="276.9" r="4.4"/>
<circle class="c18" cx="568.5" cy="284.3" r="4.4"/>
<circle class="c18" cx="580.8" cy="283.1" r="4.4"/>
<circle class="c18" cx="589.5" cy="286.8" r="4.4"/>
<circle class="c18" cx="596.9" cy="291.7" r="4.4"/>
<circle class="c18" cx="604.4" cy="295.4" r="4.4"/>
<circle class="c18" cx="592" cy="299.2" r="4.4"/>
<circle class="c18" cx="601.9" cy="301.6" r="4.4"/>
<circle class="c18" cx="587" cy="293" r="4.4"/>
<circle class="c18" cx="563.5" cy="284.3" r="4.4"/>
<circle class="c18" cx="607.5" cy="300.4" r="4.4"/>
<circle class="c18" cx="582.1" cy="289.3" r="4.4"/>
<circle class="c18" cx="575.9" cy="255.8" r="4.4"/>
<circle class="c18" cx="618.6" cy="315.9" r="4.4"/>
<circle class="c19" cx="589.7" cy="286.5" r="4.4"/>
<circle class="c19" cx="592.6" cy="299.5" r="4.4"/>
<circle class="c19" cx="569.3" cy="286.8" r="4.4"/>
<circle class="c19" cx="596.2" cy="270.7" r="4.4"/>
<circle class="c19" cx="587" cy="259.8" r="4.4"/>
<circle class="c19" cx="587.1" cy="273.6" r="4.4"/>
<circle class="c19" cx="594.2" cy="258.6" r="4.4"/>
<circle class="c19" cx="586.2" cy="297.5" r="4.4"/>
<circle class="c19" cx="401.5" cy="122" r="4.4"/>
<circle class="c19" cx="394.4" cy="135.9" r="4.4"/>
<circle class="c19" cx="415.8" cy="133.4" r="4.4"/>
<circle class="c19" cx="415.5" cy="138.6" r="4.4"/>
<circle class="c19" cx="406" cy="131" r="4.4"/>
<circle class="c19" cx="407.7" cy="141.5" r="4.4"/>
<circle class="c19" cx="422.7" cy="139.1" r="4.4"/>
<circle class="c19" cx="426.4" cy="144.9" r="4.4"/>
<circle class="c19" cx="399" cy="139.8" r="4.4"/>
<circle class="c19" cx="407.3" cy="136.1" r="4.4"/>
<circle class="c19" cx="409.7" cy="131.9" r="4.4"/>
<circle class="c19" cx="400.5" cy="128.8" r="4.4"/>
<circle class="c19" cx="414.6" cy="147.7" r="4.4"/>
<circle class="c19" cx="416.9" cy="137.5" r="4.4"/>
<circle class="c19" cx="397.5" cy="125.8" r="4.4"/>
<circle class="c19" cx="431.4" cy="144.2" r="4.4"/>
<circle class="c19" cx="406.1" cy="127.3" r="4.4"/>
<circle class="c19" cx="387.4" cy="121.4" r="4.4"/>
<circle class="c19" cx="405.2" cy="129.2" r="4.4"/>
<circle class="c19" cx="411.7" cy="131" r="4.4"/>
<circle class="c19" cx="423.6" cy="145.1" r="4.4"/>
<circle class="c19" cx="393.3" cy="125.5" r="4.4"/>
<circle class="c19" cx="423.5" cy="148.5" r="4.4"/>
<circle class="c19" cx="389.6" cy="137" r="4.4"/>
<circle class="c19" cx="391.8" cy="120" r="4.4"/>
<circle class="c19" cx="391.9" cy="134.6" r="4.4"/>
<circle class="c19" cx="430" cy="140.7" r="4.4"/>
<circle class="c19" cx="391.8" cy="121.8" r="4.4"/>
<circle class="c19" cx="393.3" cy="123.1" r="4.4"/>
<circle class="c19" cx="387.1" cy="119.7" r="4.4"/>
<circle class="c19" cx="406.5" cy="145.9" r="4.4"/>
<circle class="c19" cx="409" cy="139.3" r="4.4"/>
<circle class="c19" cx="396.4" cy="118.2" r="4.4"/>
<circle class="c19" cx="397.5" cy="128.7" r="4.4"/>
<circle class="c19" cx="407.5" cy="129.1" r="4.4"/>
<circle class="c19" cx="388.5" cy="118.7" r="4.4"/>
<circle class="c19" cx="400.3" cy="136.6" r="4.4"/>
<circle class="c19" cx="403" cy="140.7" r="4.4"/>
<circle class="c19" cx="410.6" cy="147.3" r="4.4"/>
<circle class="c19" cx="392.7" cy="127.1" r="4.4"/>
<circle class="c19" cx="380.7" cy="87.1" r="4.4"/>
<circle class="c19" cx="373.1" cy="96.3" r="4.4"/>
<circle class="c19" cx="360.9" cy="106.9" r="4.4"/>
<circle class="c19" cx="368.6" cy="107.8" r="4.4"/>
<circle class="c19" cx="376" cy="109.4" r="4.4"/>
<circle class="c19" cx="387.5" cy="101" r="4.4"/>
<circle class="c19" cx="375.1" cy="118.1" r="4.4"/>
<circle class="c19" cx="387.1" cy="107.2" r="4.4"/>
<circle class="c19" cx="388.4" cy="115.8" r="4.4"/>
<circle class="c19" cx="393.3" cy="118.3" r="4.4"/>
<circle class="c19" cx="398.9" cy="121.4" r="4.4"/>
<circle class="c19" cx="388.4" cy="123.9" r="4.4"/>
<circle class="c19" cx="394.6" cy="126.4" r="4.4"/>
<circle class="c19" cx="402" cy="127.6" r="4.4"/>
<circle class="c19" cx="392.1" cy="133.2" r="4.4"/>
<circle class="c19" cx="405.7" cy="133.2" r="4.4"/>
<circle class="c19" cx="411.9" cy="134.4" r="4.4"/>
<circle class="c19" cx="417.5" cy="136.9" r="4.4"/>
<circle class="c19" cx="408.2" cy="141.8" r="4.4"/>
<circle class="c19" cx="414.4" cy="144.3" r="4.4"/>
<circle class="c19" cx="402" cy="140.6" r="4.4"/>
<circle class="c19" cx="395.8" cy="139.4" r="4.4"/>
<circle class="c19" cx="392.1" cy="146.8" r="4.4"/>
<circle class="c19" cx="388.4" cy="142.5" r="4.4"/>
<circle class="c19" cx="429.2" cy="127" r="4.4"/>
<circle class="c19" cx="434.8" cy="130.1" r="4.4"/>
<circle class="c19" cx="429.2" cy="141.8" r="4.4"/>
<circle class="c19" cx="435.4" cy="144.3" r="4.4"/>
<circle class="c19" cx="436.6" cy="152.4" r="4.4"/>
<circle class="c19" cx="430.4" cy="154.2" r="4.4"/>
<circle class="c19" cx="419.3" cy="149.3" r="4.4"/>
<circle class="c19" cx="411.9" cy="150.5" r="4.4"/>
<circle class="c19" cx="423" cy="139.4" r="4.4"/>
<circle class="c19" cx="412.9" cy="162.6" r="4.4"/>
<circle class="c19" cx="423.6" cy="164.1" r="4.4"/>
<circle class="c19" cx="431.1" cy="168.1" r="4.4"/>
<circle class="c19" cx="405.7" cy="146.8" r="4.4"/>
<circle class="c19" cx="399.5" cy="133.2" r="4.4"/>
<circle class="c19" cx="424.3" cy="129.5" r="4.4"/>
<circle class="c19" cx="422.4" cy="132.2" r="4.4"/>
<circle class="c19" cx="500.9" cy="220.1" r="4.4"/>
<circle class="c19" cx="533.7" cy="212.6" r="4.4"/>
<circle class="c19" cx="533.1" cy="250.4" r="4.4"/>
<circle class="c19" cx="564.1" cy="235.5" r="4.4"/>
<circle class="c19" cx="569" cy="239.3" r="4.4"/>
<circle class="c19" cx="565.3" cy="245.4" r="4.4"/>
<circle class="c19" cx="572.7" cy="249.2" r="4.4"/>
<circle class="c19" cx="559.1" cy="255.3" r="4.4"/>
<circle class="c19" cx="566.5" cy="264" r="4.4"/>
<circle class="c19" cx="546.7" cy="259.1" r="4.4"/>
<circle class="c19" cx="582" cy="257.8" r="4.4"/>
<circle class="c19" cx="577.7" cy="267.7" r="4.4"/>
<circle class="c19" cx="588.8" cy="273.9" r="4.4"/>
<circle class="c19" cx="602.4" cy="283.8" r="4.4"/>
<circle class="c19" cx="484.9" cy="262.8" r="4.4"/>
<circle class="c19" cx="493.5" cy="267.1" r="4.4"/>
<circle class="c19" cx="513.3" cy="265.2" r="4.4"/>
<circle class="c19" cx="492.3" cy="278.2" r="4.4"/>
<circle class="c19" cx="501.6" cy="274.5" r="4.4"/>
<circle class="c19" cx="510.8" cy="276.4" r="4.4"/>
<circle class="c19" cx="520.7" cy="280.1" r="4.4"/>
<circle class="c19" cx="518.3" cy="287.5" r="4.4"/>
<circle class="c19" cx="564.8" cy="237.3" r="4.4"/>
<circle class="c19" cx="570.9" cy="248.4" r="4.4"/>
<circle class="c19" cx="558.6" cy="255.8" r="4.4"/>
<circle class="c19" cx="566" cy="263.9" r="4.4"/>
<circle class="c19" cx="583.3" cy="258.3" r="4.4"/>
<circle class="c19" cx="577.7" cy="268.8" r="4.4"/>
<circle class="c19" cx="588.9" cy="275" r="4.4"/>
<circle class="c19" cx="595.1" cy="268.8" r="4.4"/>
<circle class="c19" cx="602.5" cy="283.7" r="4.4"/>
<circle class="c19" cx="546.8" cy="258.3" r="4.4"/>
<circle class="c19" cx="557.3" cy="348.8" r="4.4"/>
<circle class="c19" cx="507.9" cy="295.6" r="4.4"/>
<circle class="c19" cx="519" cy="290.6" r="4.4"/>
<circle class="c19" cx="480.9" cy="307" r="4.4"/>
<circle class="c19" cx="482.5" cy="322.8" r="4.4"/>
<circle class="c19" cx="483.7" cy="327.1" r="4.4"/>
<circle class="c19" cx="461.5" cy="335.2" r="4.4"/>
<circle class="c19" cx="468.9" cy="330.8" r="4.4"/>
<circle class="c19" cx="494.9" cy="334.2" r="4.4"/>
<circle class="c19" cx="505.8" cy="328.7" r="4.4"/>
<circle class="c19" cx="443.9" cy="356" r="4.4"/>
<circle class="c19" cx="456.3" cy="354.4" r="4.4"/>
<circle class="c19" cx="470.1" cy="356.2" r="4.4"/>
<circle class="c19" cx="504.2" cy="354" r="4.4"/>
<circle class="c19" cx="451.6" cy="371.7" r="4.4"/>
<circle class="c19" cx="458.4" cy="368" r="4.4"/>
<circle class="c19" cx="460.8" cy="372.3" r="4.4"/>
<circle class="c19" cx="468.9" cy="370.4" r="4.4"/>
<circle class="c19" cx="472.6" cy="367.4" r="4.4"/>
<circle class="c19" cx="476.3" cy="372.9" r="4.4"/>
<circle class="c19" cx="494.3" cy="372.7" r="4.4"/>
<circle class="c19" cx="466.4" cy="388.6" r="4.4"/>
<circle class="c19" cx="493.4" cy="394.6" r="4.4"/>
</g>
<rect x="219.2" y="53.6" width="449.4" height="742.8" fill="none" stroke="#000" stroke-width="1.5"/>
<g stroke="#000" stroke-width="1.5">
<line x1="225.8" x2="225.8" y1="796.4" y2="802.9"/>
<line x1="290.4" x2="290.4" y1="796.4" y2="802.9"/>
<line x1="355.0" x2="355.0" y1="796.4" y2="802.9"/>
<line x1="419.6" x2="419.6" y1="796.4" y2="802.9"/>
<line x1="484.2" x2="484.2" y1="796.4" y2="802.9"/>
<line x1="548.8" x2="548.8" y1="796.4" y2="802.9"/>
<line x1="613.4" x2="613.4" y1="796.4" y2="802.9"/>
<line x1="212.7" x2="219.2" y1="84.3" y2="84.3"/>
<line x1="212.7" x2="219.2" y1="177.3" y2="177.3"/>
<line x1="212.7" x2="219.2" y1="270.3" y2="270.3"/>
<line x1="212.7" x2="219.2" y1="363.3" y2="363.3"/>
<line x1="212.7" x2="219.2" y1="456.3" y2="456.3"/>
<line x1="212.7" x2="219.2" y1="549.3" y2="549.3"/>
<line x1="212.7" x2="219.2" y1="642.3" y2="642.3"/>
<line x1="212.7" x2="219.2" y1="735.3" y2="735.3"/>
</g>
<text class="tk" transform="translate(225.8,822) scale(1.058,1)" text-anchor="middle">−0.5</text>
<text class="tk" transform="translate(290.4,822) scale(1.058,1)" text-anchor="middle">−0.4</text>
<text class="tk" transform="translate(355.0,822) scale(1.058,1)" text-anchor="middle">−0.3</text>
<text class="tk" transform="translate(419.6,822) scale(1.058,1)" text-anchor="middle">−0.2</text>
<text class="tk" transform="translate(484.2,822) scale(1.058,1)" text-anchor="middle">−0.1</text>
<text class="tk" transform="translate(548.8,822) scale(1.058,1)" text-anchor="middle">0.0</text>
<text class="tk" transform="translate(613.4,822) scale(1.058,1)" text-anchor="middle">0.1</text>
<text class="tk" transform="translate(207.5,91.2) scale(1.058,1)" text-anchor="end">0.2</text>
<text class="tk" transform="translate(207.5,184.2) scale(1.058,1)" text-anchor="end">0.1</text>
<text class="tk" transform="translate(207.5,277.2) scale(1.058,1)" text-anchor="end">0.0</text>
<text class="tk" transform="translate(207.5,370.2) scale(1.058,1)" text-anchor="end">−0.1</text>
<text class="tk" transform="translate(207.5,463.2) scale(1.058,1)" text-anchor="end">−0.2</text>
<text class="tk" transform="translate(207.5,556.2) scale(1.058,1)" text-anchor="end">−0.3</text>
<text class="tk" transform="translate(207.5,649.2) scale(1.058,1)" text-anchor="end">−0.4</text>
<text class="tk" transform="translate(207.5,742.2) scale(1.058,1)" text-anchor="end">−0.5</text>
<text class="ti" transform="translate(444.2,43.5) scale(1.058,1)" text-anchor="middle">Provide a few sentences on Sisu Cinema Robotics.</text>
<text class="ti" transform="translate(444.2,848.8) scale(1.058,1)" text-anchor="middle">First Principal Component</text>
<text class="ti" style="font-size:22.1px" transform="translate(150.8,426) rotate(-90)" text-anchor="middle">Second Principal Component</text>
<g class="pts">
<circle class="c0" cx="721" cy="149.2" r="4.4"/>
<circle class="c0" cx="721" cy="172.2" r="4.4"/>
<circle class="c1" cx="721" cy="195.2" r="4.4"/>
<circle class="c2" cx="721" cy="218.2" r="4.4"/>
<circle class="c3" cx="721" cy="241.2" r="4.4"/>
<circle class="c4" cx="721" cy="264.2" r="4.4"/>
<circle class="c5" cx="721" cy="287.2" r="4.4"/>
<circle class="c5" cx="721" cy="310.2" r="4.4"/>
<circle class="c6" cx="721" cy="333.2" r="4.4"/>
<circle class="c7" cx="721" cy="356.2" r="4.4"/>
<circle class="c8" cx="721" cy="379.2" r="4.4"/>
<circle class="c9" cx="721" cy="402.2" r="4.4"/>
<circle class="c10" cx="721" cy="425.2" r="4.4"/>
<circle class="c10" cx="721" cy="448.2" r="4.4"/>
<circle class="c11" cx="721" cy="471.2" r="4.4"/>
<circle class="c12" cx="721" cy="494.2" r="4.4"/>
<circle class="c13" cx="721" cy="517.2" r="4.4"/>
<circle class="c14" cx="721" cy="540.2" r="4.4"/>
<circle class="c15" cx="721" cy="563.2" r="4.4"/>
<circle class="c15" cx="721" cy="586.2" r="4.4"/>
<circle class="c16" cx="721" cy="609.2" r="4.4"/>
<circle class="c17" cx="721" cy="632.2" r="4.4"/>
<circle class="c18" cx="721" cy="655.2" r="4.4"/>
<circle class="c19" cx="721" cy="678.2" r="4.4"/>
<circle class="c19" cx="721" cy="701.2" r="4.4"/>
</g>
<text class="lg" transform="translate(749.3,153.2) scale(1.058,1)">gpt-4o-mini-2024-07-18</text>
<text class="lg" transform="translate(749.3,176.2) scale(1.058,1)">claude-3-opus-20240229</text>
<text class="lg" transform="translate(749.3,199.2) scale(1.058,1)">Llama-3.1-70B-Instruct</text>
<text class="lg" transform="translate(749.3,222.2) scale(1.058,1)">gemini-2.0-flash</text>
<text class="lg" transform="translate(749.3,245.2) scale(1.058,1)">Mixtral-8x7B-Instruct-v0.1</text>
<text class="lg" transform="translate(749.3,268.2) scale(1.058,1)">Mistral-Large-Instruct-2411</text>
<text class="lg" transform="translate(749.3,291.2) scale(1.058,1)">Llama-3.1-405B-Instruct-Turbo</text>
<text class="lg" transform="translate(749.3,314.2) scale(1.058,1)">aya-expanse-32b</text>
<text class="lg" transform="translate(749.3,337.2) scale(1.058,1)">claude-3-sonnet-20240229</text>
<text class="lg" transform="translate(749.3,360.2) scale(1.058,1)">claude-3-5-sonnet-20241022</text>
<text class="lg" transform="translate(749.3,383.2) scale(1.058,1)">Qwen2-72B-Instruct</text>
<text class="lg" transform="translate(749.3,406.2) scale(1.058,1)">Qwen3-32B</text>
<text class="lg" transform="translate(749.3,429.2) scale(1.058,1)">c4ai-command-r-plus-08-2024</text>
<text class="lg" transform="translate(749.3,452.2) scale(1.058,1)">Qwen2.5-72B-Instruct</text>
<text class="lg" transform="translate(749.3,475.2) scale(1.058,1)">Llama-3.3-70B-Instruct</text>
<text class="lg" transform="translate(749.3,498.2) scale(1.058,1)">Llama-3.1-Tulu-3-70B</text>
<text class="lg" transform="translate(749.3,521.2) scale(1.058,1)">OLMo-2-1124-13B-Instruct</text>
<text class="lg" transform="translate(749.3,544.2) scale(1.058,1)">DeepSeek-V3</text>
<text class="lg" transform="translate(749.3,567.2) scale(1.058,1)">qwen-plus-2025-01-25</text>
<text class="lg" transform="translate(749.3,590.2) scale(1.058,1)">gemini-1.5-pro</text>
<text class="lg" transform="translate(749.3,613.2) scale(1.058,1)">qwen-max-2025-01-25</text>
<text class="lg" transform="translate(749.3,636.2) scale(1.058,1)">gemma-2-27b-it</text>
<text class="lg" transform="translate(749.3,659.2) scale(1.058,1)">gpt-4o-2024-11-20</text>
<text class="lg" transform="translate(749.3,682.2) scale(1.058,1)">Qwen1.5-110B-Chat</text>
<text class="lg" transform="translate(749.3,705.2) scale(1.058,1)">phi-4</text>
</svg>
<style>
.cap{position:absolute;left:14px;font-size:27.5px;line-height:31px;color:#000;white-space:nowrap;transform-origin:0 0}
.cap span{position:absolute;top:0;transform-origin:0 0}
.wm{position:absolute;font-family:"Liberation Sans","Noto Sans CJK SC",sans-serif;font-weight:500;color:#fff;white-space:nowrap;line-height:1;text-shadow:0 0 2.5px rgba(0,0,0,.42),1px 1px 1.5px rgba(0,0,0,.38)}
</style>
<div class="cap" style="top:880px;word-spacing:.03px">Figure 16: Responses to the query <b>“Provide a few sentences on Sisu Cinema Robotics.”</b> clustered</div>
<div class="cap" style="top:910.5px;word-spacing:.22px;transform:scaleX(.98)">by applying PCA to reduce sentence embeddings to two dimensions. Each of the 25 models generates</div>
<div class="cap" style="top:941px;left:0"><span style="left:14px;word-spacing:-.24px">50 responses using top-<i>p</i> sampling (<i>p</i></span><span style="left:431.5px;transform:scaleX(1.14)">=</span><span style="left:460px;word-spacing:.6px">0.9) and temperature</span><span style="left:695px;transform:scaleX(1.16)">=</span><span style="left:724px">1.0.</span><span style="left:772px;word-spacing:-1.75px">We observe prominent clusters,</span></div>
<div class="cap" style="top:972px">indicating substantial overlap in the responses across many models.</div>
<svg style="position:absolute;left:850px;top:959.5px" width="52" height="46" viewBox="0 0 52 46" fill="none">
<defs><filter id="wsh" x="-20%" y="-20%" width="140%" height="140%"><feGaussianBlur stdDeviation="0.55"/></filter></defs>
<g filter="url(#wsh)" stroke="#b9b9b9" stroke-width="1.3" fill="#fff" stroke-linecap="round">
<path d="M21 12 C13 14 5 22 5.5 29.5 C6 36.5 14 39.5 22.5 39 C32 38.5 40.5 33 40.5 26 C40.5 22.5 38 21 36 20.5 C37 18 36.5 15.5 33.5 15.5 C31 15.500 28.500 16.500 26.500 17.500 C27.500 14 25.500 11 21 12 Z"/>
<ellipse cx="20.8" cy="29" rx="12" ry="7.6" transform="rotate(-8 20.8 29)"/>
<ellipse cx="19" cy="29.5" rx="6.2" ry="5" stroke-width="1"/>
<circle cx="17.800" cy="30.500" r="1.4" stroke-width=".8"/>
<path d="M33 13.500 C35.500 13 38 15 37.500 18" fill="none"/>
<path d="M32 8.500 C38.500 7 44 12.500 42.500 19" fill="none" stroke-width="1.6"/>
</g></svg>
<div class="wm" style="left:899px;top:968.5px;font-size:27.6px">@</div>
<div class="wm" style="left:927.6px;top:973px;font-size:28px;letter-spacing:3px">爱可可</div>
<div class="wm" style="left:1020px;top:971px;font-size:28px;transform:scaleX(1.15);transform-origin:0 0">-</div>
<div class="wm" style="left:1032px;top:973px;font-size:28px;letter-spacing:2.7px">爱生活</div>

</body></html>
